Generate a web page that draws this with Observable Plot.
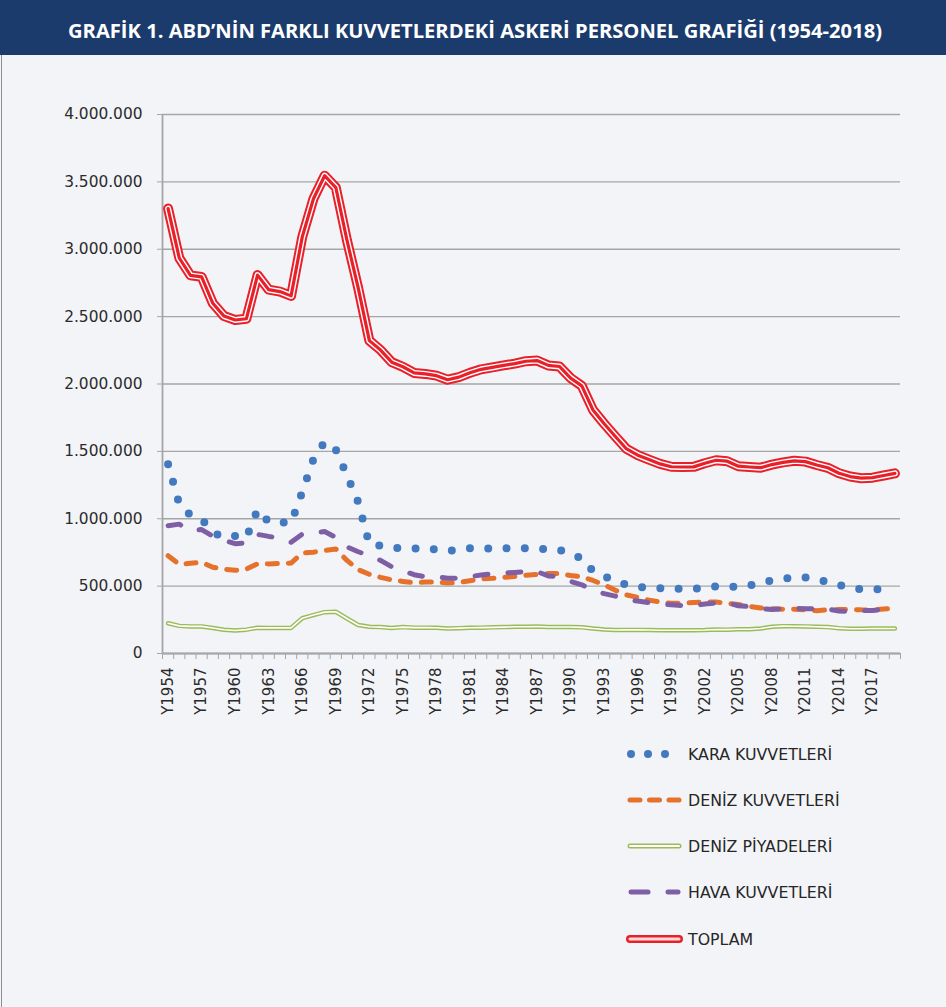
<!DOCTYPE html>
<html><head><meta charset="utf-8">
<script src="https://cdn.jsdelivr.net/npm/d3@7"></script>
<script src="https://cdn.jsdelivr.net/npm/@observablehq/plot@0.6"></script>
<style>
html,body{margin:0;padding:0;background:#F3F4F8;}
#wrap{position:relative;width:946px;height:1007px;background:#F3F4F8;overflow:hidden;}
#lb{position:absolute;left:1px;top:0;width:1px;height:1007px;background:#8f8f8f;}
#title{position:absolute;left:0;top:0;z-index:3;}
#chart{position:absolute;left:0;top:0;z-index:1;}
#legend{position:absolute;left:0;top:730px;z-index:2;}
</style></head>
<body><div id="wrap"><div id="lb"></div><div id="title"></div><div id="chart"></div><div id="legend"></div></div>
<script>
const titleText = "GRAFİK 1. ABD’NİN FARKLI KUVVETLERDEKİ ASKERİ PERSONEL GRAFİĞİ (1954-2018)";
const years = d3.range(1954, 2020);
// thousands of personnel
const kara = [1405,1109,1026,998,899,862,873,858,1066,976,
  973,969,1200,1442,1570,1512,1322,1123,811,801,
  783,784,779,782,771,758,777,781,780,780,
  780,781,781,781,772,770,732,710,610,572,
  541,509,491,492,484,479,482,481,487,499,
  500,493,505,522,544,553,566,565,550,532,
  508,491,475,476,476,481];
const deniz = [726,661,670,677,640,626,617,626,666,665,
  668,671,745,752,765,776,691,622,588,565,
  546,535,525,530,530,523,527,540,553,558,
  565,571,581,587,593,593,579,570,542,510,
  469,435,417,396,382,373,373,378,383,382,
  373,363,350,338,332,329,328,325,318,324,
  326,327,324,323,330,336];
const piyade = [224,205,201,201,189,176,171,177,191,190,
  190,190,262,285,307,310,260,212,198,196,
  189,196,192,192,191,185,188,191,192,194,
  196,198,199,200,197,197,197,194,185,178,
  174,175,175,174,173,173,173,173,174,178,
  177,180,180,186,199,203,202,201,198,196,
  188,184,184,185,186,186];
const hava = [948,960,910,920,871,840,815,821,884,869,
  857,825,886,897,905,862,791,755,726,691,
  644,613,585,570,569,559,558,570,583,592,
  597,602,608,607,576,571,535,510,470,444,
  426,400,389,377,367,361,356,354,368,375,
  377,354,349,333,327,333,334,333,333,330,
  316,311,318,319,329,332];
const toplam = [3302,2935,2806,2795,2599,2504,2475,2484,2808,2700,
  2686,2654,3092,3375,3546,3458,3065,2713,2322,2252,
  2162,2128,2082,2075,2062,2032,2051,2083,2109,2123,
  2138,2151,2169,2174,2138,2130,2044,1986,1807,1705,
  1610,1518,1472,1439,1407,1386,1384,1385,1412,1434,
  1427,1390,1384,1379,1402,1418,1430,1424,1399,1378,
  1338,1313,1301,1305,1321,1337];
const yTicks = [0,500000,1000000,1500000,2000000,2500000,3000000,3500000,4000000];
const labelYears = d3.range(1954, 2018, 3);
const seriesNames = ["KARA KUVVETLERİ","DENİZ KUVVETLERİ","DENİZ PİYADELERİ","HAVA KUVVETLERİ","TOPLAM"];

const C = {kara:"#4279BF", deniz:"#E5712B", piyade:"#9BBB59", hava:"#7E5FA5", toplam:"#E8202A"};

const rows = years.map((y,i)=>({year:y, kara:kara[i]*1000, deniz:deniz[i]*1000, piyade:piyade[i]*1000, hava:hava[i]*1000, toplam:toplam[i]*1000}));
const boundaries = d3.range(1953.5, 2020, 1);
const fmt = d3.formatLocale({thousands:".", grouping:[3], decimal:","}).format(",d");

// title
const ts = d3.create("svg").attr("width",946).attr("height",55);
ts.append("rect").attr("width",946).attr("height",55).attr("fill","#1B3B6D");
ts.append("text").attr("x",475).attr("y",37.5).attr("text-anchor","middle")
  .attr("fill","#fff").attr("font-family","Open Sans").attr("font-weight","bold")
  .attr("font-size",19).attr("textLength",814).attr("lengthAdjust","spacingAndGlyphs").text(titleText);
document.getElementById("title").append(ts.node());

const common = {x:"year", strokeLinejoin:"round", strokeLinecap:"round"};
const chart = Plot.plot({
  width:946, height:760, marginLeft:162, marginRight:46, marginTop:114, marginBottom:107,
  style:{background:"transparent", fontFamily:"DejaVu Sans", fontSize:"15px", color:"#333"},
  x:{type:"linear", domain:[1953.5,2019.5]},
  y:{domain:[0,4000000]},
  marks:[
    Plot.gridY(yTicks,{stroke:"#A6A6A6", strokeOpacity:1, strokeWidth:1.4}),
    Plot.axisY(yTicks,{tickFormat:fmt, tickSize:5, tickPadding:15, stroke:"#A6A6A6", label:null, fontSize:15.4, fill:"#2b2b2b"}),
    Plot.axisX(boundaries,{tickSize:6, tickFormat:()=>"", stroke:"#A6A6A6", label:null}),
    Plot.axisX(labelYears,{tickSize:0, tickRotate:-90, tickPadding:14, tickFormat:d=>"Y"+d, label:null, fontSize:15, fill:"#2b2b2b"}),
    Plot.ruleX([1953.5],{stroke:"#A6A6A6", strokeWidth:1.8}),
    Plot.ruleY([0],{stroke:"#A6A6A6", strokeWidth:1.8}),
    Plot.line(rows,{...common, y:"kara", stroke:C.kara, strokeWidth:8, strokeDasharray:"0 18.3"}),
    Plot.line(rows,{...common, y:"deniz", stroke:C.deniz, strokeWidth:5, strokeDasharray:"10 11"}),
    Plot.line(rows,{...common, y:"piyade", stroke:C.piyade, strokeWidth:4.5}),
    Plot.line(rows,{...common, y:"piyade", stroke:"#fff", strokeWidth:1.6}),
    Plot.line(rows,{...common, y:"hava", stroke:C.hava, strokeWidth:5, strokeDasharray:"13 20"}),
    Plot.line(rows,{...common, y:"toplam", stroke:C.toplam, strokeWidth:10}),
    Plot.line(rows,{...common, y:"toplam", stroke:"#fff", strokeWidth:6}),
    Plot.line(rows,{...common, y:"toplam", stroke:C.toplam, strokeWidth:3.2})
  ]
});
document.getElementById("chart").append(chart);

// legend
const lg = d3.create("svg").attr("width",946).attr("height",240);
const ly = [24,70,116,162,209];
const x0 = 630, x1 = 679;
function seg(g, w, color, dash){
  const p = g.append("line").attr("x1",x0).attr("x2",x1).attr("stroke",color).attr("stroke-width",w).attr("stroke-linecap","round");
  if(dash) p.attr("stroke-dasharray",dash);
  return p;
}
seriesNames.forEach((name,i)=>{
  const g = lg.append("g").attr("transform",`translate(0,${ly[i]})`);
  if(i===0){ [631,648,665].forEach(cx=>g.append("circle").attr("cx",cx).attr("cy",0).attr("r",4).attr("fill",C.kara)); }
  if(i===1){ seg(g,5,C.deniz,"10 9.5"); }
  if(i===2){ seg(g,5,C.piyade); seg(g,2,"#fff"); }
  if(i===3){ g.append("line").attr("x1",631).attr("x2",648).attr("stroke",C.hava).attr("stroke-width",5).attr("stroke-linecap","round");
             g.append("line").attr("x1",668).attr("x2",678).attr("stroke",C.hava).attr("stroke-width",5).attr("stroke-linecap","round"); }
  if(i===4){ seg(g,8,C.toplam); seg(g,3,"#fbdada"); }
  g.append("text").attr("x",688).attr("y",5.5).attr("font-family","DejaVu Sans").attr("font-size",15.8).attr("fill","#262626").text(name);
});
document.getElementById("legend").append(lg.node());
</script>
</body></html>
